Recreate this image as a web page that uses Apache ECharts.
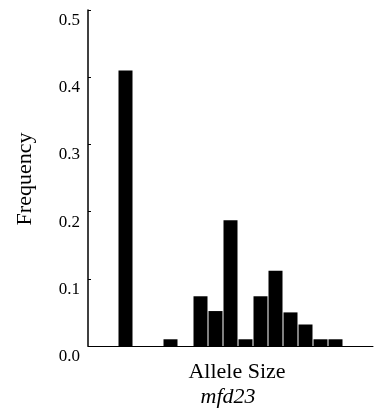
<!DOCTYPE html>
<html>
<head>
<meta charset="utf-8">
<script src="https://cdn.jsdelivr.net/npm/echarts@6/dist/echarts.min.js"></script>
<style>html,body{margin:0;padding:0;background:#fff;}#c{width:375px;height:419px;}</style>
</head>
<body>
<div id="c"></div>
<script>
// Allele size classes (unlabelled in the original) and their frequencies
var categories = ['c1','c2','c3','c4','c5','c6','c7','c8','c9','c10','c11','c12','c13','c14','c15','c16','c17','c18','c19'];
var frequencies = [0, 0, 0.41, 0, 0, 0.01, 0, 0.074, 0.052, 0.187, 0.01, 0.074, 0.112, 0.05, 0.032, 0.01, 0.01, 0, 0];
var yTicks = [0, 0.1, 0.2, 0.3, 0.4, 0.5];
var xTitle = 'Allele Size';
var locusName = 'mfd23';
var yTitle = 'Frequency';

var chart = echarts.init(document.getElementById('c'), null, {renderer: 'canvas'});
var serif = '"Liberation Serif", "DejaVu Serif", serif';
chart.setOption({
  animation: false,
  backgroundColor: '#fff',
  grid: {left: 88, right: 2, top: 10, bottom: 73, containLabel: false},
  xAxis: {
    type: 'category',
    data: categories,
    axisLine: {show: true, lineStyle: {color: '#000', width: 1}},
    axisTick: {show: false},
    axisLabel: {show: false},
    splitLine: {show: false}
  },
  yAxis: {
    type: 'value',
    min: yTicks[0],
    max: yTicks[yTicks.length - 1],
    interval: 0.1,
    axisLine: {show: true, lineStyle: {color: '#000', width: 1.5}},
    axisTick: {show: true, inside: true, length: 3, lineStyle: {color: '#000', width: 1}},
    axisLabel: {
      color: '#000',
      fontFamily: serif,
      fontSize: 17,
      margin: 8,
      verticalAlign: 'top',
      padding: [2, 0, 0, 0],
      formatter: function (v) { return v.toFixed(1); }
    },
    splitLine: {show: false}
  },
  series: [{
    type: 'bar',
    data: frequencies,
    barWidth: 14,
    itemStyle: {color: '#000'}
  }],
  graphic: [
    {type: 'text', x: 25, y: 179, rotation: Math.PI / 2,
     style: {text: yTitle, font: '22px ' + serif, fill: '#000', align: 'center', verticalAlign: 'middle'}},
    {type: 'text', x: 237, y: 372,
     style: {text: xTitle, font: '22px ' + serif, fill: '#000', align: 'center', verticalAlign: 'middle'}},
    {type: 'text', x: 228, y: 397,
     style: {text: locusName, font: 'italic 22px ' + serif, fill: '#000', align: 'center', verticalAlign: 'middle'}}
  ]
});
</script>
</body>
</html>
